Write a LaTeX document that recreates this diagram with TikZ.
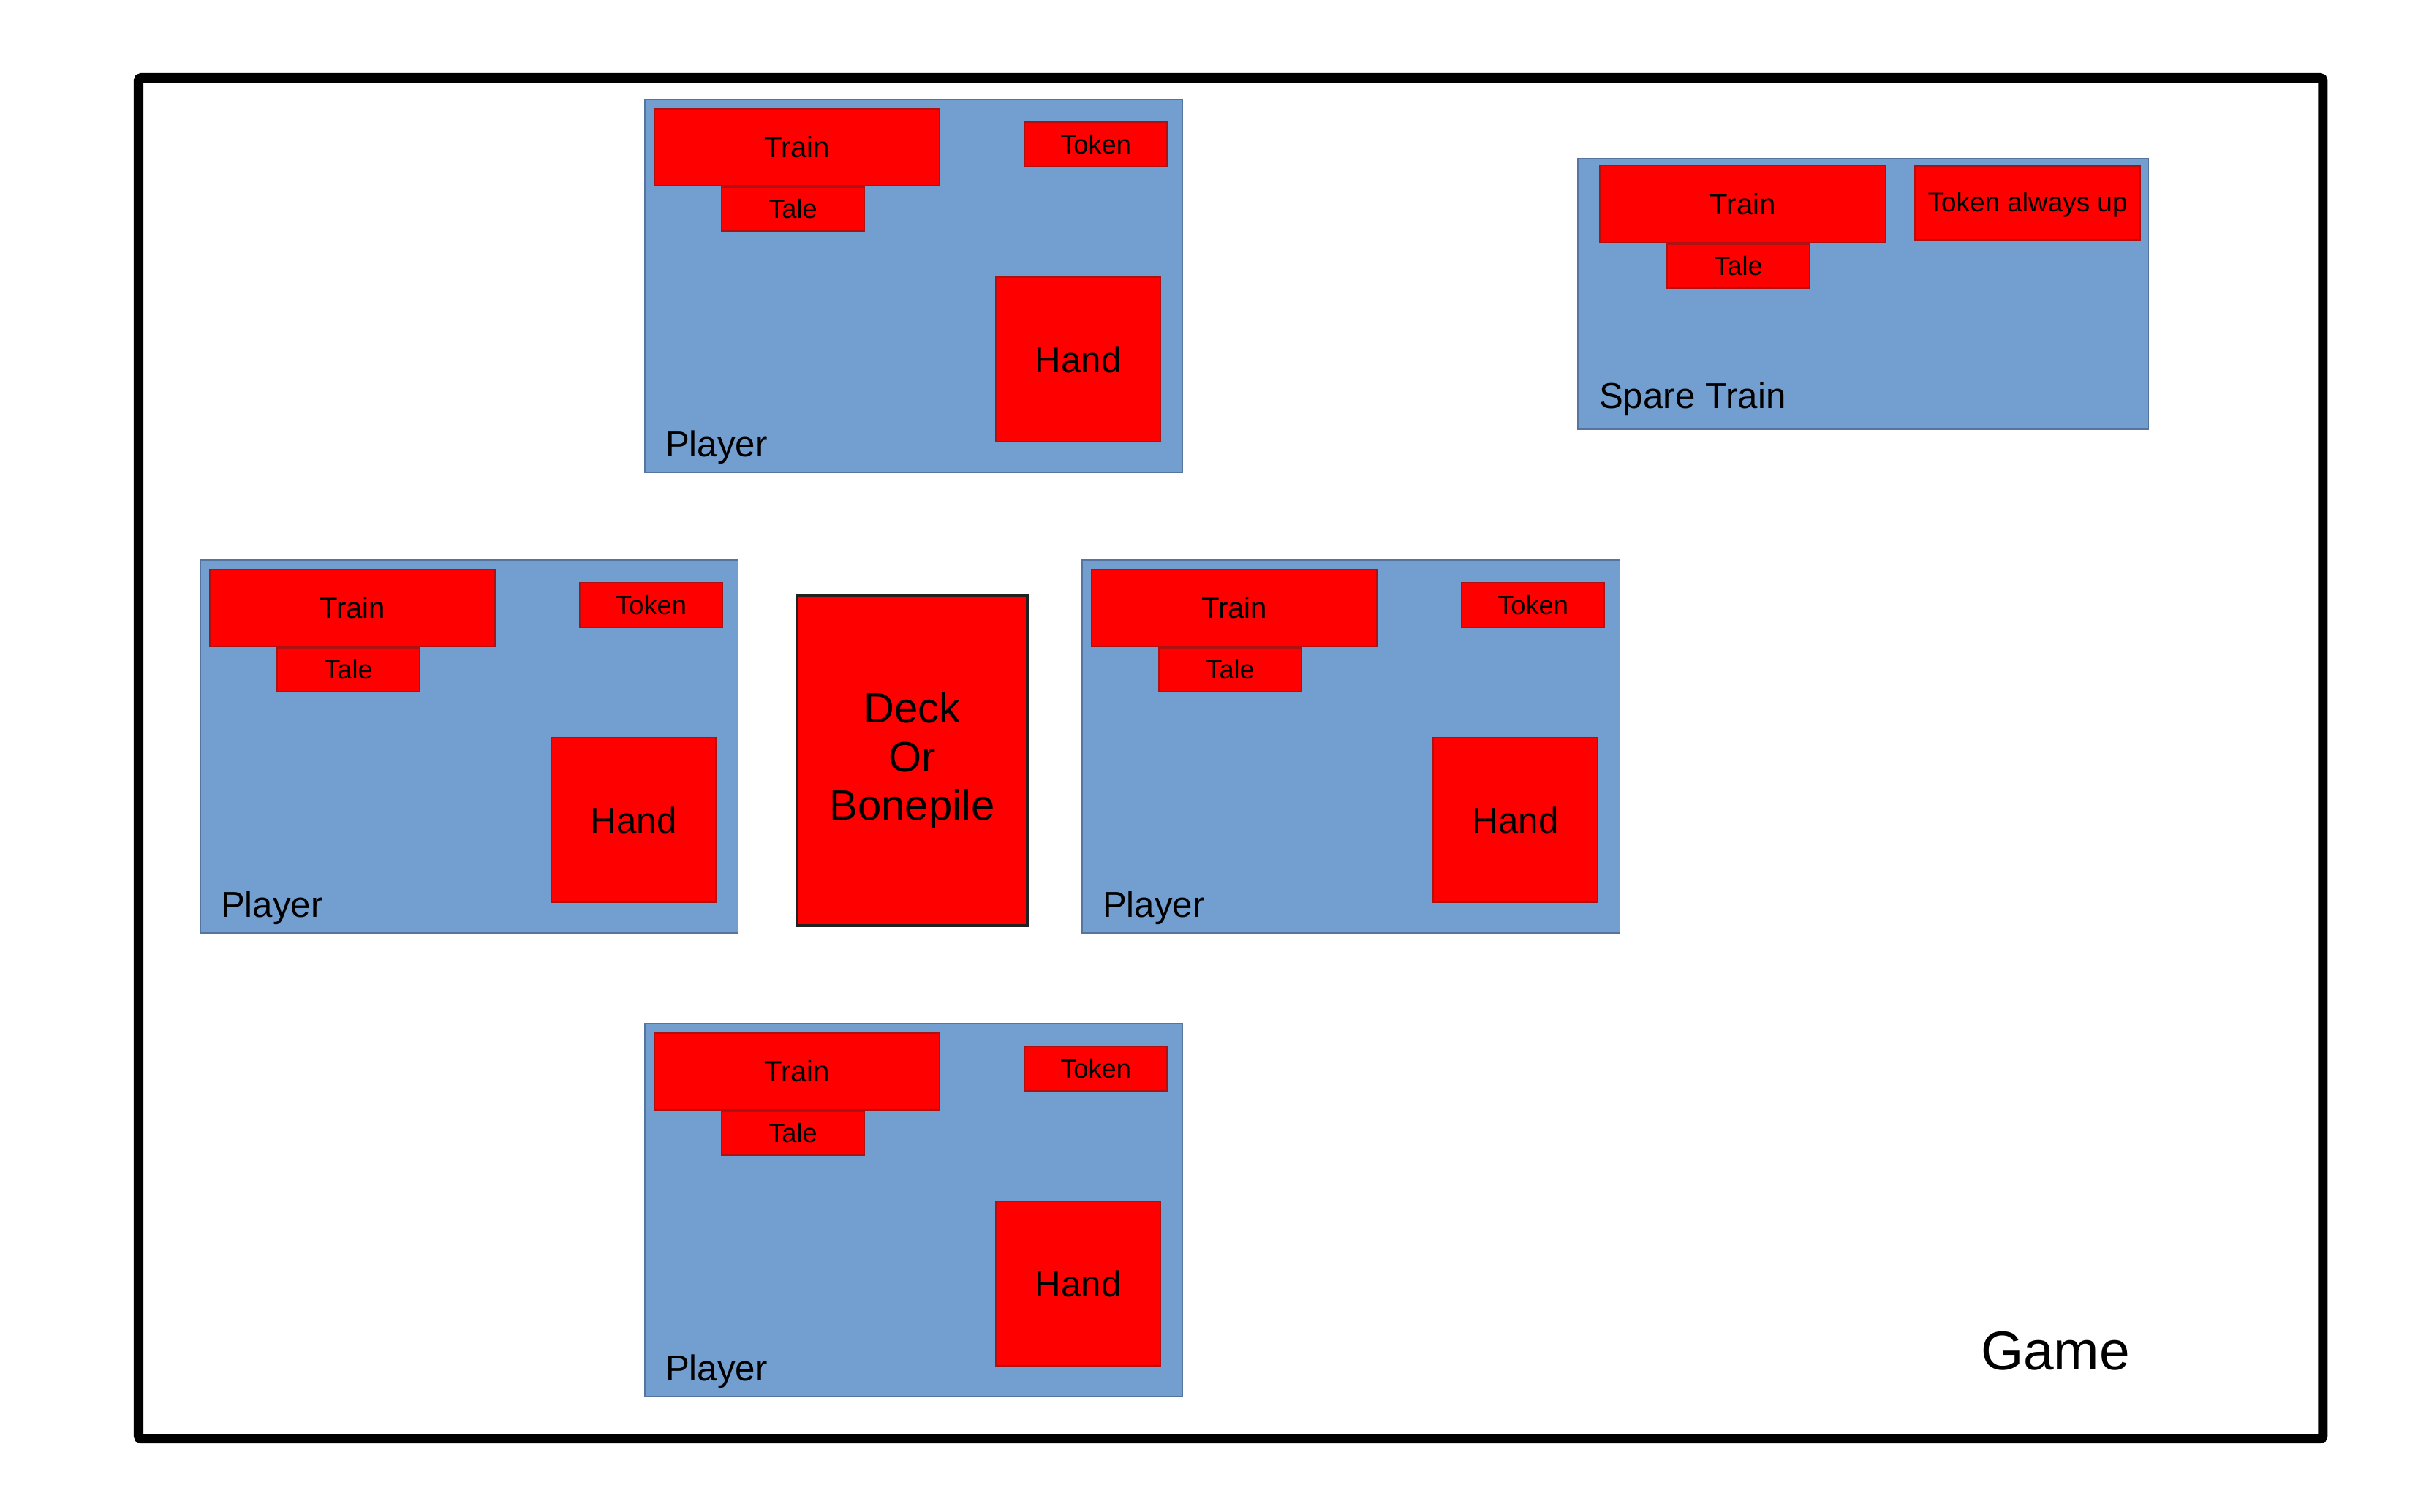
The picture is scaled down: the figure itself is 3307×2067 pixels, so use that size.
\documentclass[tikz,border=0pt]{standalone}
\usepackage{fontspec}
\setmainfont{Liberation Sans}
\definecolor{bluefill}{HTML}{729FCF}
\definecolor{bluedraw}{HTML}{56759E}
\definecolor{redfill}{HTML}{FF0000}
\definecolor{reddraw}{HTML}{B01010}
\tikzset{
  every node/.style={outer sep=0pt},
  bluebox/.style={draw=bluedraw, fill=bluefill, line width=0.5pt, anchor=north west, inner sep=0pt},
  redbox/.style={draw=reddraw, fill=redfill, line width=0.5pt, anchor=north west, inner sep=0pt, align=center, text=black},
  smallfont/.style={font=\fontsize{10.3pt}{12pt}\selectfont},
  trainfont/.style={font=\fontsize{11.4pt}{13pt}\selectfont},
  labelfont/.style={font=\fontsize{14pt}{16pt}\selectfont},
  plabel/.style={anchor=base west, inner sep=0pt, labelfont}
}
\newcommand{\playerpanel}[3]{%
  \begin{scope}[shift={(#2,#3)}]
    \node[bluebox, minimum width=7.35cm, minimum height=5.10cm] (#1) at (0,0) {};
    \node[redbox, trainfont, minimum width=3.90cm, minimum height=1.05cm] (#1-train) at (13,13) {Train};
    \node[redbox, smallfont, minimum width=1.95cm, minimum height=0.60cm] (#1-tale) at (105,120) {Tale};
    \node[redbox, smallfont, minimum width=1.95cm, minimum height=0.61cm] (#1-token) at (519,31) {Token};
    \node[redbox, labelfont, minimum width=2.25cm, minimum height=2.25cm] (#1-hand) at (480,243) {Hand};
    \node[plabel] (#1-label) at (28,488) {Player};
  \end{scope}}
\begin{document}
\begin{tikzpicture}[x=0.01cm, y=-0.01cm]
  \useasboundingbox (0,0) rectangle (3307,2067);
  % outer game frame
  \node[draw=black, line width=3.7pt, rounded corners=1pt, anchor=north west, inner sep=0pt,
        minimum width=29.855cm, minimum height=18.60cm] (game) at (189.5,106.5) {};
  \node[anchor=base west, inner sep=0pt, font=\fontsize{21.3pt}{24pt}\selectfont] (gamelabel) at (2709,1873) {Game};
  % players
  \playerpanel{ptop}{882}{136}
  \playerpanel{pleft}{274}{766}
  \playerpanel{pright}{1480}{766}
  \playerpanel{pbottom}{882}{1400}
  % deck
  \node[draw=black!87, fill=redfill, line width=1.15pt, anchor=north west, inner sep=0pt,
        minimum width=3.15cm, minimum height=4.52cm, align=center,
        font=\fontsize{16.5pt}{18.9pt}\selectfont] (deck) at (1090,814) {Deck\\Or\\Bonepile};
  % spare train
  \node[bluebox, minimum width=7.80cm, minimum height=3.70cm] (spare) at (2158,217) {};
  \node[redbox, trainfont, minimum width=3.91cm, minimum height=1.06cm] (spare-train) at (2188,226) {Train};
  \node[redbox, smallfont, minimum width=1.95cm, minimum height=0.60cm] (spare-tale) at (2280,334) {Tale};
  \node[redbox, font=\fontsize{10.5pt}{12pt}\selectfont, minimum width=3.08cm, minimum height=1.01cm,
        text depth=0.6pt] (spare-token) at (2619,227) {Token always up};
  \node[plabel] (spare-label) at (2187,558) {Spare Train};
\end{tikzpicture}
\end{document}
